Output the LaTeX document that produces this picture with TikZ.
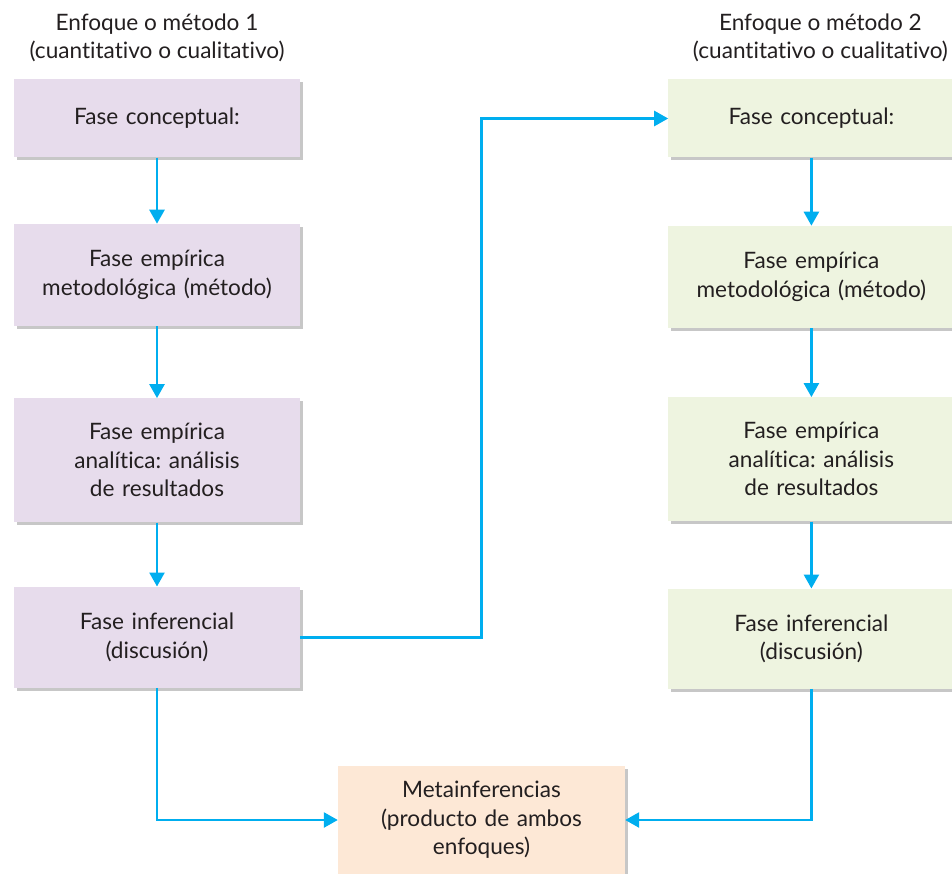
\documentclass[tikz,border=0pt]{standalone}
\usepackage{fontspec}
\setmainfont{Lato}[Ligatures={NoCommon}]
\usepackage{xcolor}
\usepackage{tikz}
\usetikzlibrary{arrows.meta,positioning,shadows}

\definecolor{arrowblue}{HTML}{00AEEF}
\definecolor{lilac}{HTML}{E7DCEC}
\definecolor{paleleaf}{HTML}{EEF4E0}
\definecolor{peach}{HTML}{FDE8D6}
\definecolor{inkgray}{HTML}{231F20}

\begin{document}
\frenchspacing
\begin{tikzpicture}[
  x=1pt, y=-1pt,
  node distance=66pt,
  phase/.style={
    rectangle, inner sep=0pt,
    minimum width=286pt, text width=270pt,
    align=center, text=inkgray,
    font=\fontsize{22.6}{28.5}\selectfont,
    drop shadow={shadow xshift=3pt, shadow yshift=-3pt, fill=black, opacity=0.22}
  },
  left phase/.style={phase, fill=lilac},
  right phase/.style={phase, fill=paleleaf},
  head/.style={inner sep=0pt, align=center, text=inkgray,
    font=\fontsize{22.6}{28.5}\selectfont},
  arr/.style={-{Triangle[length=14pt, width=15pt]}, line width=2.6pt, draw=arrowblue}
]
  \useasboundingbox (0,0) rectangle (952,874);

  % left column
  \node[left phase, minimum height=78pt] at (157,118.5) (l1) {Fase conceptual:};
  \node[left phase, minimum height=102pt, below=66pt of l1] (l2) {Fase empírica\\ metodológica (método)};
  \node[left phase, minimum height=124pt, below=72pt of l2] (l3) {Fase empírica\\ analítica: análisis\\ de resultados};
  \node[left phase, minimum height=101pt, below=64pt of l3] (l4) {Fase inferencial\\ (discusión)};

  % right column
  \node[right phase, minimum height=78pt, right=368pt of l1] (r1) {Fase conceptual:};
  \node[right phase, minimum height=102pt, below=68pt of r1] (r2) {Fase empírica\\ metodológica (método)};
  \node[right phase, minimum height=124pt, below=69pt of r2] (r3) {Fase empírica\\ analítica: análisis\\ de resultados};
  \node[right phase, minimum height=100pt, below=67pt of r3] (r4) {Fase inferencial\\ (discusión)};

  % result
  \node[phase, fill=peach, minimum height=108pt, minimum width=287pt] at (481.5,820) (meta)
    {Metainferencias\\ (producto de ambos\\ enfoques)};

  % headings
  \node[head, above=17pt of l1] (h1) {Enfoque o método 1\\ (cuantitativo o cualitativo)};
  \node[head, above=17pt of r1, xshift=9pt] (h2) {Enfoque o método 2\\ (cuantitativo o cualitativo)};

  \draw[arr] (l1) -- (l2);
  \draw[arr] (l2) -- (l3);
  \draw[arr] (l3) -- (l4);
  \draw[arr] (r1) -- (r2);
  \draw[arr] (r2) -- (r3);
  \draw[arr] (r3) -- (r4);
  \draw[arr] (l4.east) -- (l4.east -| meta) |- (r1.west);
  \draw[arr] (l4.south) |- (meta.west);
  \draw[arr] (r4.south) |- (meta.east);
\end{tikzpicture}
\end{document}
